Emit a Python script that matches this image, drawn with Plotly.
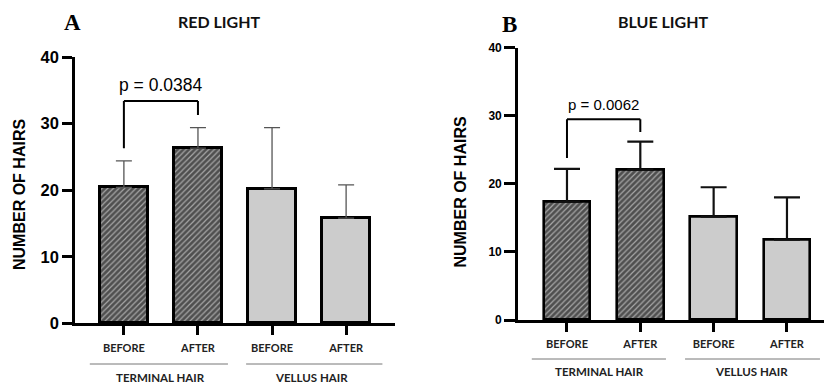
import plotly.graph_objects as go

# ---- data ----
categories = ["BEFORE", "AFTER", "BEFORE", "AFTER"]
groups = ["TERMINAL HAIR", "VELLUS HAIR"]
red_means = [20.4, 26.3, 20.2, 15.8]
red_err = [4.0, 3.1, 9.2, 5.0]
blue_means = [17.4, 22.1, 15.2, 11.8]
blue_err = [4.8, 4.1, 4.3, 6.2]
red_bracket = {"y": 33.4, "left": 26.3, "right": 31.3, "p": "p = 0.0384", "ptext_y": 35.8}
blue_bracket = {"y": 29.5, "left": 23.8, "right": 27.6, "p": "p = 0.0062", "ptext_y": 31.6}
y_ticks = [0, 10, 20, 30, 40]

W, H = 824, 383
xpos = [0, 1, 2, 3]
dark, light = "#4f4f4f", "#cccccc"
colors = [dark, dark, light, light]
shapes_pattern = ["/", "/", "", ""]

def px(v):
    return v / W

def py(v):
    return (H - v) / H

fig = go.Figure()

def add_panel(means, err, xa, ya, lw, ecol, ethick, ewidth):
    fig.add_trace(go.Bar(
        x=xpos, y=means, width=0.64, xaxis=xa, yaxis=ya,
        marker=dict(color=colors, line=dict(color="black", width=lw),
                    pattern=dict(shape=shapes_pattern, fgcolor="#9a9a9a", size=4, solidity=0.3)),
        error_y=dict(type="data", symmetric=False, array=err, arrayminus=[0]*4,
                     color=ecol, thickness=ethick, width=ewidth),
        showlegend=False))

add_panel(red_means, red_err, "x", "y", 3, "#555555", 1.3, 8)
add_panel(blue_means, blue_err, "x2", "y2", 2.6, "#111111", 2.2, 13)

lab_font = dict(family="Lato, Liberation Sans, Arial", size=11, color="#222", weight="bold")
grp_font = dict(family="Lato, Liberation Sans, Arial", size=11.5, color="#222", weight="bold")
common_x = dict(showline=True, linecolor="black", ticks="outside", tickcolor="black",
                tickvals=xpos, ticktext=categories, tickfont=lab_font, showgrid=False,
                zeroline=False, fixedrange=True, automargin=False)

fig.update_layout(
    width=W, height=H, margin=dict(l=0, r=0, t=0, b=0, autoexpand=False),
    plot_bgcolor="white", paper_bgcolor="white", bargap=0,
    xaxis=dict(domain=[px(75), px(395)], range=[-0.66, 3.66], linewidth=2.6,
               ticklen=9, tickwidth=2.5, ticklabelstandoff=4, anchor="y", **common_x),
    yaxis=dict(domain=[py(323.3), py(57)], range=[0, 40], tickvals=y_ticks, showline=True,
               linecolor="black", linewidth=2.6, ticks="outside", ticklen=10, tickwidth=2.5,
               tickcolor="black", showgrid=False, zeroline=False, anchor="x", automargin=False,
               tickfont=dict(family="Liberation Sans, Arial", size=16.5, color="black", weight="bold")),
    xaxis2=dict(domain=[px(518), 1.0], range=[-0.668, 3.505], linewidth=2.6,
                ticklen=9, tickwidth=2.5, ticklabelstandoff=3, anchor="y2", **common_x),
    yaxis2=dict(domain=[py(320), py(47.7)], range=[0, 40], tickvals=y_ticks, showline=True,
                linecolor="black", linewidth=2.6, ticks="outside", ticklen=11, tickwidth=2.5,
                tickcolor="black", showgrid=False, zeroline=False, anchor="x2", automargin=False,
                tickfont=dict(family="Liberation Sans, Arial", size=12, color="black", weight="bold")),
)

shapes = []
annots = []

def bracket(b, xr, yr, lw):
    for (x0, y0, x1, y1) in [(0, b["left"], 0, b["y"]), (0, b["y"], 1, b["y"]), (1, b["y"], 1, b["right"])]:
        shapes.append(dict(type="line", xref=xr, yref=yr, x0=x0, y0=y0, x1=x1, y1=y1,
                           line=dict(color="black", width=lw)))

bracket(red_bracket, "x", "y", 2)
bracket(blue_bracket, "x2", "y2", 2)

C = dict(showarrow=False, xanchor="center", yanchor="middle")
annots.append(dict(text=red_bracket["p"], x=0.5, y=red_bracket["ptext_y"], xref="x", yref="y",
                   font=dict(family="Liberation Sans, Arial", size=17.5, color="black"), **C))
annots.append(dict(text=blue_bracket["p"], x=0.5, y=blue_bracket["ptext_y"], xref="x2", yref="y2",
                   font=dict(family="Liberation Sans, Arial", size=15, color="black"), **C))

# group lines and labels
def groups_draw(xr, line_y, lab_y, segs, centers):
    for (a, b) in segs:
        shapes.append(dict(type="line", xref=xr, yref="paper", x0=a, x1=b, y0=py(line_y), y1=py(line_y),
                           line=dict(color="#777", width=1)))
    for g, c in zip(groups, centers):
        annots.append(dict(text=g, x=c, y=py(lab_y), xref=xr, yref="paper", font=grp_font, **C))

groups_draw("x", 364, 377.7, [(-0.46, 1.405), (1.65, 3.49)], [0.49, 2.53])
groups_draw("x2", 359, 371.7, [(-0.48, 1.35), (1.61, 3.45)], [0.45, 2.52])

title_font = dict(family="Lato, Liberation Sans, Arial", size=16, color="#111", weight="bold")
annots += [
    dict(text="RED LIGHT", x=px(219), y=py(21), xref="paper", yref="paper", font=title_font, **C),
    dict(text="BLUE LIGHT", x=px(663), y=py(21), xref="paper", yref="paper", font=title_font, **C),
    dict(text="A", x=px(72), y=py(23), xref="paper", yref="paper",
         font=dict(family="Liberation Serif, Times New Roman", size=23, color="black", weight="bold"), **C),
    dict(text="B", x=px(510), y=py(25), xref="paper", yref="paper",
         font=dict(family="Liberation Serif, Times New Roman", size=23, color="black", weight="bold"), **C),
    dict(text="NUMBER OF HAIRS", x=px(19), y=py(195), xref="paper", yref="paper",
         textangle=-90, font=dict(family="Liberation Sans, Arial", size=16, color="black", weight="bold"), **C),
    dict(text="NUMBER OF HAIRS", x=px(460), y=py(192.5), xref="paper", yref="paper",
         textangle=-90, font=dict(family="Liberation Sans, Arial", size=16, color="black", weight="bold"), **C),
]

fig.update_layout(shapes=shapes, annotations=annots)
fig.write_html("out.html", config={"displayModeBar": False},
               post_script="document.body.style.margin='0';document.body.style.overflow='hidden';")
